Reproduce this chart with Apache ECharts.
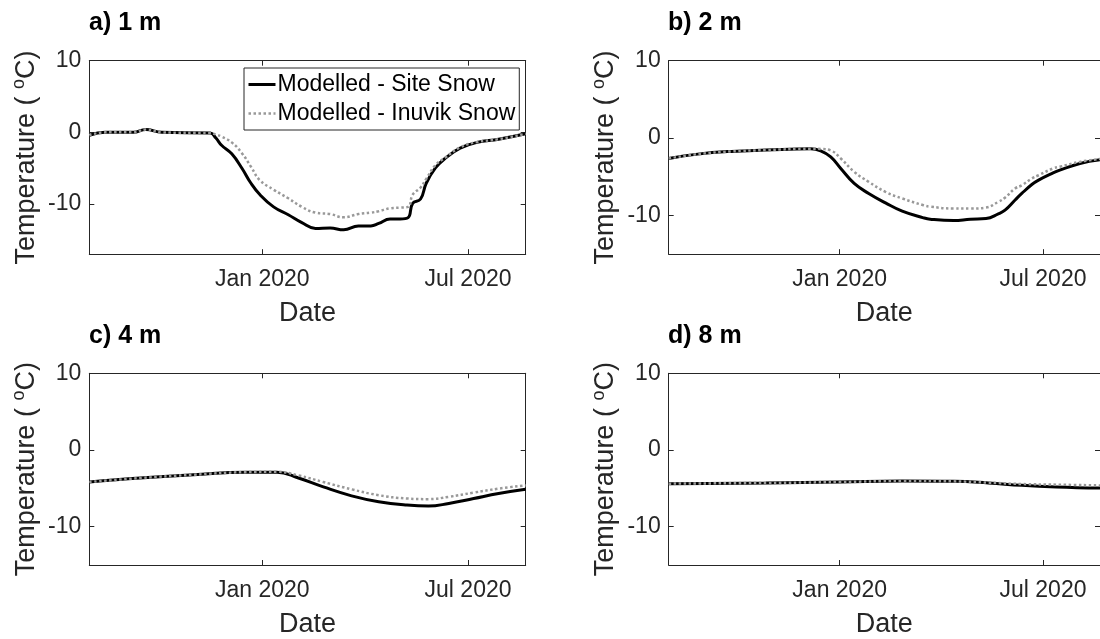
<!DOCTYPE html>
<html><head><meta charset="utf-8">
<script src="https://cdn.jsdelivr.net/npm/echarts@6/dist/echarts.min.js"></script>
<style>html,body{margin:0;padding:0;background:#fff}#c{width:1100px;height:639px}</style>
</head><body><div id="c"></div>
<script>
// ---------------- DATA ----------------
const seriesNames = ['Modelled - Site Snow', 'Modelled - Inuvik Snow'];
const panelTitles = ['a) 1 m', 'b) 2 m', 'c) 4 m', 'd) 8 m'];
const xRange = ['2019-08-01', '2020-08-21'];
const xTickDates = ['2020-01-01', '2020-07-01'];
const xTickLabels = ['Jan 2020', 'Jul 2020'];
const yTicks = [-10, 0, 10];
const yMins = [-17, -15, -15, -15];
const yMax = 10;

// a) 1 m
const datesA = ['2019-08-01','2019-08-15','2019-09-09','2019-09-20','2019-10-04','2019-11-16','2019-11-21','2019-11-26','2019-12-05','2019-12-14','2019-12-22','2019-12-30','2020-01-11','2020-01-24','2020-02-05','2020-02-17','2020-03-01','2020-03-13','2020-03-26','2020-04-06','2020-04-13','2020-04-23','2020-05-02','2020-05-09','2020-05-13','2020-05-20','2020-05-25','2020-06-02','2020-06-11','2020-06-24','2020-07-09','2020-07-28','2020-08-21'];
const siteA   = [-0.4, 0.0, 0.0, 0.4, 0.0, -0.1, -0.8, -1.8, -3.0, -5.0, -7.1, -8.7, -10.4, -11.5, -12.6, -13.4, -13.35, -13.6, -13.05, -13.05, -12.7, -12.1, -12.1, -11.9, -9.9, -9.3, -7.1, -5.0, -3.6, -2.2, -1.4, -0.97, -0.2];
const inuvikA = [-0.4, 0.0, 0.0, 0.4, 0.0, -0.1, -0.3, -0.6, -1.4, -2.9, -4.8, -6.7, -8.0, -9.2, -10.4, -11.2, -11.4, -11.85, -11.4, -11.2, -11.0, -10.6, -10.5, -10.4, -8.7, -7.7, -6.5, -4.6, -3.5, -2.1, -1.35, -0.95, -0.2];

// b) 2 m
const datesB = ['2019-08-01','2019-08-27','2019-09-26','2019-10-27','2019-12-06','2019-12-15','2019-12-24','2020-01-02','2020-01-14','2020-01-27','2020-02-11','2020-02-26','2020-03-16','2020-03-22','2020-04-12','2020-04-27','2020-05-11','2020-05-22','2020-05-28','2020-06-06','2020-06-12','2020-06-21','2020-06-27','2020-07-10','2020-07-16','2020-08-03','2020-08-21'];
const siteB   = [-2.63, -2.07, -1.72, -1.55, -1.38, -1.64, -2.42, -3.92, -5.86, -7.15, -8.37, -9.44, -10.3, -10.48, -10.65, -10.48, -10.4, -9.8, -9.31, -8.0, -7.15, -6.0, -5.43, -4.5, -4.14, -3.28, -2.8];
const inuvikB = [-2.63, -2.07, -1.72, -1.55, -1.38, -1.40, -1.60, -2.63, -4.36, -5.65, -6.95, -7.80, -8.67, -8.85, -9.10, -9.10, -8.97, -8.24, -7.7, -6.51, -6.1, -5.22, -4.8, -3.92, -3.7, -3.07, -2.7];

// c) 4 m
const datesC = ['2019-08-01','2019-09-15','2019-11-01','2019-12-17','2020-01-14','2020-02-02','2020-02-24','2020-03-20','2020-04-13','2020-05-08','2020-05-27','2020-06-14','2020-07-06','2020-07-28','2020-08-21'];
const siteC   = [-4.18, -3.66, -3.23, -2.89, -2.89, -3.66, -4.82, -5.98, -6.75, -7.19, -7.32, -6.97, -6.33, -5.68, -5.13];
const inuvikC = [-4.18, -3.66, -3.23, -2.89, -2.85, -3.32, -4.18, -5.13, -5.90, -6.33, -6.41, -6.11, -5.56, -5.04, -4.61];

// d) 8 m
const datesD = ['2019-08-01','2019-10-27','2020-01-01','2020-02-26','2020-04-12','2020-05-13','2020-06-12','2020-07-13','2020-08-21'];
const siteD   = [-4.39, -4.30, -4.18, -4.05, -4.09, -4.30, -4.61, -4.82, -4.97];
const inuvikD = [-4.39, -4.30, -4.18, -4.05, -4.09, -4.26, -4.44, -4.52, -4.62];

// ---------------- CHART ----------------
const toT = s => new Date(s + 'T00:00:00').getTime();
const FONT = '"Liberation Sans", Arial, Helvetica, sans-serif';
const AX = '#262626';
const SITE_STYLE = {color: '#000000', width: 3};
const INUVIK_STYLE = {color: '#999999', width: 2.5, type: [2.5, 2.5]};
const xMinT = toT(xRange[0]), xMaxT = toT(xRange[1]);
const xTickT = xTickDates.map(toT);

const panels = [
  {dates: datesA, site: siteA, inuvik: inuvikA},
  {dates: datesB, site: siteB, inuvik: inuvikB},
  {dates: datesC, site: siteC, inuvik: inuvikC},
  {dates: datesD, site: siteD, inuvik: inuvikD}
];
const gridPos = [
  {left: 89.3, top: 60.7, width: 436.4, height: 193.5},
  {left: 668.7, top: 60.7, width: 436.4, height: 193.5},
  {left: 89.3, top: 373.3, width: 436.4, height: 194},
  {left: 668.7, top: 373.3, width: 436.4, height: 194}
];
const titlePos = [[89, 11], [668, 11], [89, 324], [668, 324]];

const xLabelFmt = v => {
  let best = 0, bd = Infinity;
  xTickT.forEach((t, i) => { const d = Math.abs(t - v); if (d < bd) { bd = d; best = i; } });
  return xTickLabels[best];
};

const xAxes = [], yAxes = [], series = [];
panels.forEach((p, i) => {
  const tickCommon = {show: true, inside: true, length: 5, customValues: xTickT, lineStyle: {color: AX, width: 1}};
  xAxes.push({
    type: 'value', gridIndex: i, position: 'bottom', min: xMinT, max: xMaxT, scale: true,
    axisLine: {show: true, onZero: false, lineStyle: {color: AX, width: 1}},
    axisTick: tickCommon,
    axisLabel: {show: true, customValues: xTickT, formatter: xLabelFmt, color: AX, fontSize: 23, fontFamily: FONT, margin: 14, hideOverlap: false},
    splitLine: {show: false},
    name: 'Date', nameLocation: 'middle', nameGap: 46,
    nameTextStyle: {fontSize: 27, color: AX, fontFamily: FONT}
  });
  xAxes.push({
    type: 'value', gridIndex: i, position: 'top', min: xMinT, max: xMaxT, scale: true,
    axisLine: {show: true, onZero: false, lineStyle: {color: AX, width: 1}},
    axisTick: tickCommon,
    axisLabel: {show: false}, splitLine: {show: false}
  });
  const yTickCommon = {show: true, inside: true, length: 5, customValues: yTicks, lineStyle: {color: AX, width: 1}};
  yAxes.push({
    type: 'value', gridIndex: i, position: 'left', min: yMins[i], max: yMax,
    axisLine: {show: true, onZero: false, lineStyle: {color: AX, width: 1}},
    axisTick: yTickCommon,
    axisLabel: {show: true, customValues: yTicks, color: AX, fontSize: 23, fontFamily: FONT, margin: 8},
    splitLine: {show: false},
    name: 'Temperature ( {s|o}C)', nameLocation: 'middle', nameGap: 47, nameRotate: 90,
    nameTextStyle: {fontSize: 27, color: AX, fontFamily: FONT,
      rich: {s: {fontSize: 18, color: AX, fontFamily: FONT, verticalAlign: 'top', lineHeight: 32}}}
  });
  yAxes.push({
    type: 'value', gridIndex: i, position: 'right', min: yMins[i], max: yMax,
    axisLine: {show: true, onZero: false, lineStyle: {color: AX, width: 1}},
    axisTick: yTickCommon,
    axisLabel: {show: false}, splitLine: {show: false}
  });
  series.push({
    name: seriesNames[0], type: 'line', xAxisIndex: 2 * i, yAxisIndex: 2 * i,
    data: p.dates.map((d, k) => [toT(d), p.site[k]]),
    symbol: 'none', smooth: 0.45,
    lineStyle: SITE_STYLE, itemStyle: {color: '#000000'}, z: 2
  });
  series.push({
    name: seriesNames[1], type: 'line', xAxisIndex: 2 * i, yAxisIndex: 2 * i,
    data: p.dates.map((d, k) => [toT(d), p.inuvik[k]]),
    symbol: 'none', smooth: 0.45,
    lineStyle: INUVIK_STYLE, itemStyle: {color: '#999999'}, z: 3
  });
});

const option = {
  animation: false,
  backgroundColor: '#ffffff',
  title: panelTitles.map((t, i) => ({
    text: t, left: titlePos[i][0], top: titlePos[i][1], padding: 0,
    textStyle: {fontSize: 25, fontWeight: 'bold', color: '#000000', fontFamily: FONT}
  })),
  grid: gridPos.map(g => Object.assign({containLabel: false}, g)),
  xAxis: xAxes,
  yAxis: yAxes,
  legend: {
    data: [
      {name: seriesNames[0], lineStyle: SITE_STYLE},
      {name: seriesNames[1], lineStyle: INUVIK_STYLE}
    ],
    orient: 'vertical', left: 244, top: 68,
    backgroundColor: '#ffffff', borderColor: AX, borderWidth: 1, borderRadius: 0,
    padding: [5, 4, 5, 3], itemGap: 6, itemWidth: 27, itemHeight: 14,
    itemStyle: {opacity: 0, borderWidth: 0},
    textStyle: {fontSize: 23, color: '#000000', fontFamily: FONT, padding: [0, 0, 0, -3]},
    selectedMode: false
  },
  series: series
};
const chart = echarts.init(document.getElementById('c'), null, {renderer: 'canvas'});
chart.setOption(option);
</script></body></html>
